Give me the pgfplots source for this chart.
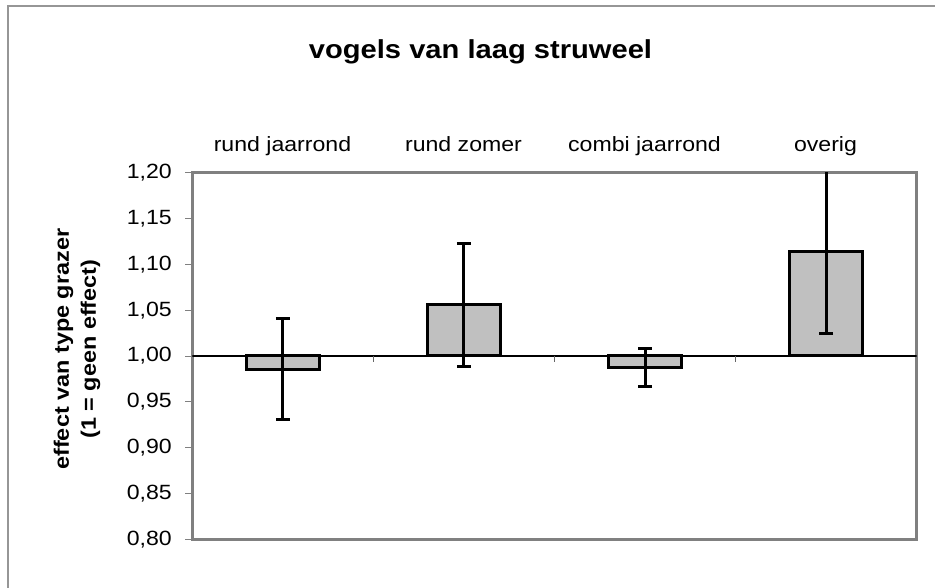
\documentclass[border=0pt]{standalone}
\usepackage{pgfplots}
\pgfplotsset{compat=1.18}
\usepackage{pgfplotstable}
\usepackage{fontspec}
\setmainfont{Liberation Sans}[FakeStretch=1.12]
\definecolor{barfill}{RGB}{192,192,192}
\definecolor{frame}{RGB}{128,128,128}
\definecolor{outer}{RGB}{150,150,150}
\pgfplotstableread{
x y ep em
1 0.9855 0.0555 0.0545
2 1.056 0.067 0.068
3 0.987 0.0217 0.0204
4 1.114 0.09 0.0896
}\datatable
\begin{document}
\begin{tikzpicture}[x=1bp,y=1bp]
\useasboundingbox (0,0) rectangle (935,588);
\draw[color=outer, line width=1.5bp] (7.8,0) -- (7.8,582) -- (935,582);
\begin{axis}[
  at={(192.3bp,48.7bp)}, anchor=south west,
  width=724.4bp, height=366.6bp, scale only axis,
  xmin=0.5, xmax=4.5, ymin=-0.2, ymax=0.2,
  xtick=\empty,
  ytick={-0.2,-0.15,-0.1,-0.05,0,0.05,0.1,0.15,0.2},
  yticklabels={{0,80},{0,85},{0,90},{0,95},{1,00},{1,05},{1,10},{1,15},{1,20}},
  ytick pos=left,
  tick align=outside, major tick length=7bp,
  ytick style={color=frame, line width=0.8bp},
  yticklabel style={font=\fontsize{20.7}{24}\selectfont, inner sep=0pt, xshift=-13.3bp},
  axis line style={color=frame, line width=2.5bp},
  clip=true,
]
\draw[black, line width=1.2bp] (axis cs:0.5,0) -- (axis cs:4.5,0);
\draw[black!60, line width=0.8bp] (axis cs:1.5,0) -- ([yshift=-6bp]axis cs:1.5,0);
\draw[black!60, line width=0.8bp] (axis cs:2.5,0) -- ([yshift=-6bp]axis cs:2.5,0);
\draw[black!60, line width=0.8bp] (axis cs:3.5,0) -- ([yshift=-6bp]axis cs:3.5,0);
\addplot[ybar, bar width=73.6bp, bar shift=0pt, fill=barfill, draw=black, line width=3bp,
  y filter/.expression={y-1},
  error bars/.cd, y dir=both, y explicit,
  error bar style={line width=3bp, black},
  error mark options={rotate=90, mark size=7bp, line width=3bp, black}]
  table[x=x, y=y, y error plus=ep, y error minus=em] {\datatable};
\end{axis}
\node[anchor=base, font=\bfseries\fontsize{26.1}{30}\selectfont] at (480.5,529) {vogels van laag struweel};
\node[anchor=base, font=\fontsize{20.7}{24}\selectfont] at (282.5,436.5) {rund jaarrond};
\node[anchor=base, font=\fontsize{20.7}{24}\selectfont] at (463.5,436.5) {rund zomer};
\node[anchor=base, font=\fontsize{20.7}{24}\selectfont] at (644.5,436.5) {combi jaarrond};
\node[anchor=base, font=\fontsize{20.7}{24}\selectfont] at (825.5,436.5) {overig};
\node[rotate=90, align=center, font=\bfseries\fontsize{21}{27}\selectfont] at (77,238.8) {effect van type grazer\\(1 = geen effect)};
\end{tikzpicture}
\end{document}
